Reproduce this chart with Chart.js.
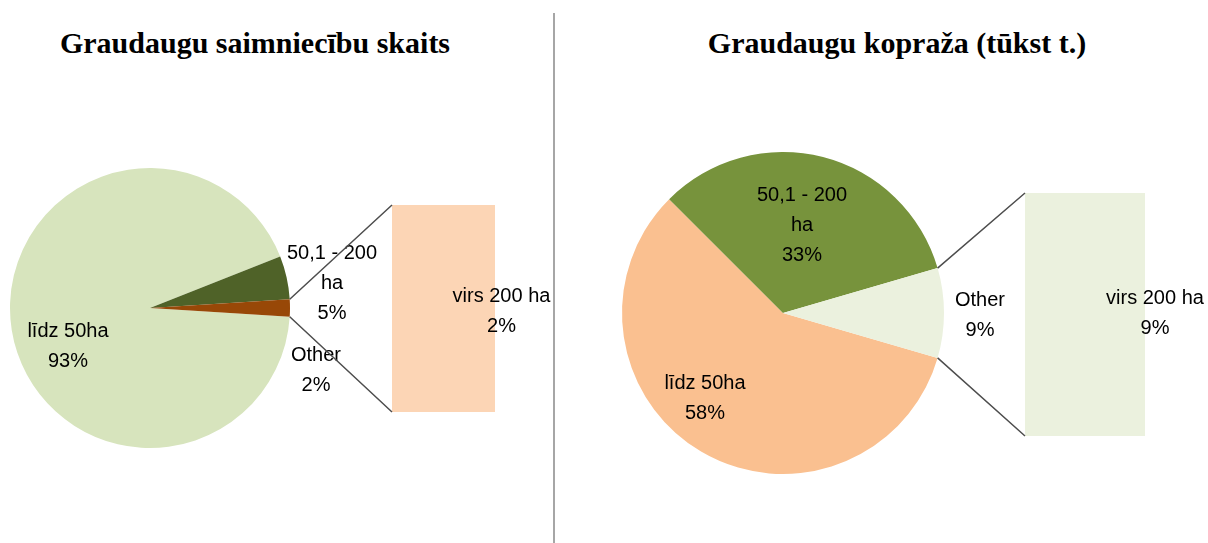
<!DOCTYPE html>
<html lang="lv">
<head>
    <meta charset="UTF-8">
    <title>Graudaugu saimniecības</title>
    <script src="https://cdn.jsdelivr.net/npm/chart.js"></script>
    <style>
        body {
            margin: 0;
            background: #ffffff;
        }

        #wrap {
            position: relative;
            width: 1208px;
            height: 543px;
            overflow: hidden;
        }

        canvas {
            position: absolute;
            top: 0;
        }

        .title {
            position: absolute;
            top: 26px;
            line-height: 34px;
            font: bold 30px 'Liberation Serif', 'Times New Roman', serif;
            color: #000;
            white-space: nowrap;
            transform: translateX(-50%);
        }

        .divider {
            position: absolute;
            left: 553px;
            top: 13px;
            width: 2px;
            height: 530px;
            background: #a6a6a6;
        }
    </style>
</head>
<body>
    <div id="wrap">
        <div class="divider"></div>
        <div class="title" style="left:255px">Graudaugu saimniecību skaits</div>
        <div class="title" style="left:897px">Graudaugu kopraža (tūkst t.)</div>
        <canvas id="pieL" width="553" height="543" style="left:0"></canvas>
        <canvas id="barL" width="300" height="543" style="left:270px"></canvas>
        <canvas id="pieR" width="652" height="543" style="left:556px"></canvas>
        <canvas id="barR" width="288" height="543" style="left:920px"></canvas>
    </div>

    <script>
        // dati
        const farmCategories = ['līdz 50ha', '50,1 - 200 ha', 'Other'];
        const farmValues = [93, 5, 2];
        const farmBarCategories = ['virs 200 ha'];
        const farmBarValues = [2];

        const yieldCategories = ['līdz 50ha', '50,1 - 200 ha', 'Other'];
        const yieldValues = [58, 33, 9];
        const yieldBarCategories = ['virs 200 ha'];
        const yieldBarValues = [9];

        const LABEL_FONT = '20px "Liberation Sans", Arial, sans-serif';
        const LINE_H = 30;

        // novietojums un krāsas
        const leftSide = {
            pieId: 'pieL', barId: 'barL', pieLeft: 0, barLeft: 270,
            piePad: { left: 10, right: 263, top: 168, bottom: 95 },
            barPad: { left: 122, right: 75, top: 205, bottom: 131 },
            colours: ['#d7e4bd', '#4f6228', '#984807'],
            barColour: '#fcd5b5',
            labelOffsets: [[-82, 38], [182, -25], [166, 62]],
            barLabelOffset: [58, 3]
        };
        const rightSide = {
            pieId: 'pieR', barId: 'barR', pieLeft: 556, barLeft: 920,
            piePad: { left: 66, right: 264, top: 152, bottom: 69 },
            barPad: { left: 105, right: 63, top: 193, bottom: 107 },
            colours: ['#fac090', '#77933c', '#ebf1de'],
            barColour: '#ebf1de',
            labelOffsets: [[-78, 85], [19, -88], [197, 2]],
            barLabelOffset: [70, -1]
        };

        const sum = arr => arr.reduce((a, b) => a + b, 0);

        // vārdu pārnešana, ja teksts par garu
        function wrap(ctx, text, maxWidth) {
            const words = text.split(' ');
            const lines = [];
            let cur = '';
            words.forEach(w => {
                const test = cur ? cur + ' ' + w : w;
                if (cur && ctx.measureText(test).width > maxWidth) {
                    lines.push(cur);
                    cur = w;
                } else {
                    cur = test;
                }
            });
            if (cur) lines.push(cur);
            return lines;
        }

        function drawBlock(ctx, lines, cx, cy) {
            const top = cy - (lines.length - 1) * LINE_H / 2;
            lines.forEach((t, k) => ctx.fillText(t, cx, top + k * LINE_H));
        }

        function pieLabels(offsets) {
            return {
                id: 'pieLabels',
                afterDatasetsDraw(chart) {
                    const ctx = chart.ctx;
                    const data = chart.data.datasets[0].data;
                    const total = sum(data);
                    ctx.save();
                    ctx.font = LABEL_FONT;
                    ctx.fillStyle = '#000';
                    ctx.textAlign = 'center';
                    ctx.textBaseline = 'middle';
                    chart.getDatasetMeta(0).data.forEach((arc, i) => {
                        const lines = wrap(ctx, chart.data.labels[i], 105);
                        lines.push(Math.round(data[i] / total * 100) + '%');
                        drawBlock(ctx, lines, arc.x + offsets[i][0], arc.y + offsets[i][1]);
                    });
                    ctx.restore();
                }
            };
        }

        function makePie(side, labels, values) {
            const other = values[labels.indexOf('Other')];
            return new Chart(document.getElementById(side.pieId), {
                type: 'pie',
                data: {
                    labels: labels,
                    datasets: [{
                        data: values,
                        backgroundColor: side.colours,
                        borderWidth: 0
                    }]
                },
                options: {
                    responsive: false,
                    animation: false,
                    rotation: 90 + other / sum(values) * 180,
                    layout: { padding: side.piePad },
                    plugins: {
                        legend: { display: false },
                        tooltip: { enabled: false }
                    }
                },
                plugins: [pieLabels(side.labelOffsets)]
            });
        }

        function makeBar(side, pie, labels, values) {
            const pieTotal = sum(pie.data.datasets[0].data);
            const otherIdx = pie.data.labels.indexOf('Other');

            const connector = {
                id: 'connector',
                afterDatasetsDraw(chart) {
                    const ctx = chart.ctx;
                    const arc = pie.getDatasetMeta(0).data[otherIdx];
                    const p = arc.getProps(['x', 'y', 'outerRadius', 'startAngle', 'endAngle'], true);
                    const shift = side.pieLeft - side.barLeft;
                    const bar = chart.getDatasetMeta(0).data[0];
                    const b = bar.getProps(['x', 'y', 'base', 'width'], true);
                    const left = b.x - b.width / 2;
                    const top = Math.min(b.y, b.base);
                    const bottom = Math.max(b.y, b.base);

                    ctx.save();
                    ctx.strokeStyle = '#4d4d4d';
                    ctx.lineWidth = 1.5;
                    ctx.beginPath();
                    ctx.moveTo(p.x + shift + Math.cos(p.startAngle) * p.outerRadius, p.y + Math.sin(p.startAngle) * p.outerRadius);
                    ctx.lineTo(left, top);
                    ctx.moveTo(p.x + shift + Math.cos(p.endAngle) * p.outerRadius, p.y + Math.sin(p.endAngle) * p.outerRadius);
                    ctx.lineTo(left, bottom);
                    ctx.stroke();

                    ctx.font = LABEL_FONT;
                    ctx.fillStyle = '#000';
                    ctx.textAlign = 'center';
                    ctx.textBaseline = 'middle';
                    const lines = wrap(ctx, labels[0], 105);
                    lines.push(Math.round(values[0] / pieTotal * 100) + '%');
                    drawBlock(ctx, lines, b.x + side.barLabelOffset[0], (top + bottom) / 2 + side.barLabelOffset[1]);
                    ctx.restore();
                }
            };

            return new Chart(document.getElementById(side.barId), {
                type: 'bar',
                data: {
                    labels: labels,
                    datasets: [{
                        data: values,
                        backgroundColor: side.barColour,
                        borderWidth: 0,
                        barPercentage: 1,
                        categoryPercentage: 1
                    }]
                },
                options: {
                    responsive: false,
                    animation: false,
                    layout: { padding: side.barPad },
                    plugins: {
                        legend: { display: false },
                        tooltip: { enabled: false }
                    },
                    scales: {
                        x: { display: false },
                        y: { display: false, min: 0, max: sum(values) }
                    }
                },
                plugins: [connector]
            });
        }

        const pieL = makePie(leftSide, farmCategories, farmValues);
        makeBar(leftSide, pieL, farmBarCategories, farmBarValues);

        const pieR = makePie(rightSide, yieldCategories, yieldValues);
        makeBar(rightSide, pieR, yieldBarCategories, yieldBarValues);
    </script>
</body>
</html>
